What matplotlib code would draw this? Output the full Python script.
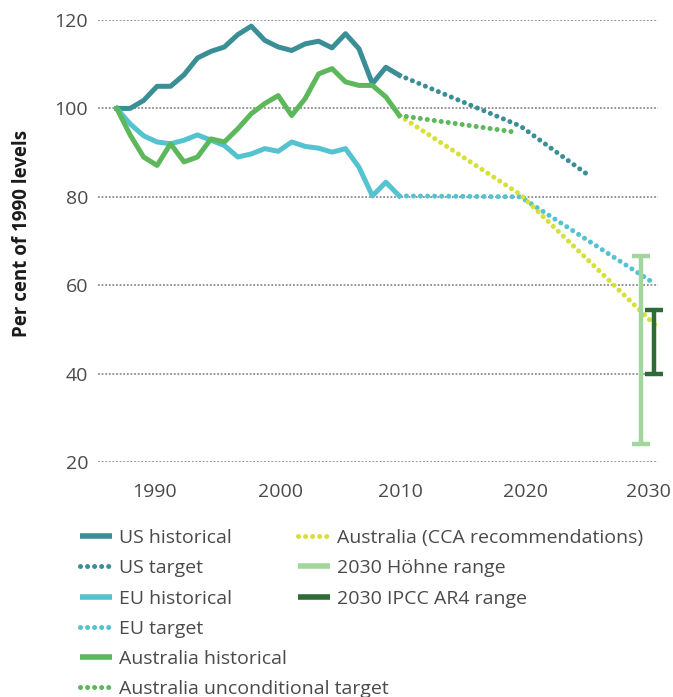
import matplotlib
matplotlib.use("Agg")
import matplotlib.pyplot as plt
from matplotlib.lines import Line2D

# historical emissions, per cent of 1990 levels
hist_years = list(range(1990, 2012))
us_hist = [100, 100, 101.8, 105, 105, 107.6, 111.4, 112.9, 113.9, 116.7, 118.6,
           115.4, 113.9, 113.1, 114.6, 115.2, 113.7, 116.9, 113.5, 105.6, 109.3, 107.5]
eu_hist = [100, 96.5, 93.8, 92.4, 92.0, 92.8, 94.0, 92.8, 91.6, 89.0, 89.7,
           90.9, 90.3, 92.4, 91.4, 91.0, 90.1, 90.9, 86.7, 80.2, 83.3, 80.2]
aus_hist = [100, 94, 89.0, 87.1, 92.0, 87.9, 89.0, 93.1, 92.4, 95.4, 98.8,
            101.1, 102.9, 98.4, 102.2, 107.8, 109.0, 106.0, 105.2, 105.2, 102.6, 98.4]

# targets
us_tgt_years = [2011, 2020, 2025]
us_tgt = [107.5, 96, 85]
eu_tgt_years = [2011, 2020, 2030]
eu_tgt = [80.2, 80, 60.3]
aus_unc_years = [2011, 2019.7]
aus_unc = [98.4, 94.6]
cca_years = [2011, 2020, 2030]
cca = [98.4, 80.5, 51]

# 2030 ranges
hohne_range = [24.1, 66.6]
ipcc_range = [40.0, 54.5]
range_year = 2030

x_ticks_labels = ["1990", "2000", "2010", "2020", "2030"]
y_ticks = [20, 40, 60, 80, 100, 120]

C_US = "#3a8f97"
C_EU = "#55c2cf"
C_AUS = "#5cb85a"
C_CCA = "#d6e036"
C_HOHNE = "#a2d69d"
C_IPCC = "#2f6b35"

FONT = "Open Sans"
TXT = "#4a4a4a"
FS = 14
DOT = (0, (0.01, 1.4))

fig = plt.figure(figsize=(6.73, 6.97), dpi=100)
ax = fig.add_axes([98 / 673, 1 - 462 / 697, 560 / 673, 442 / 697])

lw = 3.6
ax.plot(hist_years, us_hist, color=C_US, lw=lw, solid_joinstyle="round", zorder=3)
ax.plot(hist_years, eu_hist, color=C_EU, lw=lw, solid_joinstyle="round", zorder=3)
ax.plot(hist_years, aus_hist, color=C_AUS, lw=lw, solid_joinstyle="round", zorder=3)

ax.plot(us_tgt_years, us_tgt, color=C_US, lw=lw, ls=DOT, dash_capstyle="round", zorder=3)
ax.plot(eu_tgt_years, eu_tgt, color=C_EU, lw=lw, ls=DOT, dash_capstyle="round", zorder=3)
ax.plot(cca_years, cca, color=C_CCA, lw=lw, ls=DOT, dash_capstyle="round", zorder=3)
ax.plot(aus_unc_years, aus_unc, color=C_AUS, lw=lw, ls=DOT, dash_capstyle="round", zorder=3)

# range bars
for x, rng, col in [(range_year - 1.05, hohne_range, C_HOHNE),
                    (range_year - 0.05, ipcc_range, C_IPCC)]:
    mid = (rng[0] + rng[1]) / 2
    ax.errorbar([x], [mid], yerr=[[mid - rng[0]], [rng[1] - mid]], fmt="none",
                ecolor=col, elinewidth=3.2, capsize=6.5, capthick=3.2,
                zorder=4, clip_on=False)

ax.set_xlim(1988.61, 2030.22)
ax.set_ylim(20, 120)

ax.set_yticks(y_ticks)
ax.set_yticklabels([str(v) for v in y_ticks])
# labels sit where the original places them, not exactly on the decade
ax.set_xticks([1992.8, 2002.2, 2011.1, 2020.4, 2029.5])
ax.set_xticklabels(x_ticks_labels)
ax.tick_params(length=0, labelsize=FS, labelcolor=TXT)
ax.tick_params(axis="y", pad=7)
ax.tick_params(axis="x", pad=15)
for lab in ax.get_xticklabels() + ax.get_yticklabels():
    lab.set_fontfamily(FONT)

ax.grid(axis="y", color="#8c8c8c", lw=1.3, ls=(0, (1, 1)), zorder=1)
ax.grid(axis="x", visible=False)
for s in ax.spines.values():
    s.set_visible(False)

ax.set_ylabel("Per cent of 1990 levels", fontsize=13.5, fontweight="bold",
              color="#1a1a1a", family=FONT)
ax.yaxis.set_label_coords(-0.117, 0.516)

def h(col, dotted=False):
    if dotted:
        return Line2D([], [], color=col, lw=lw, ls=DOT, dash_capstyle="round")
    return Line2D([], [], color=col, lw=4.0, solid_capstyle="butt")

leg_kw = dict(frameon=False, handlelength=1.65, handletextpad=0.35, borderpad=0,
              borderaxespad=0, labelspacing=0.63,
              prop={"family": FONT, "size": FS},
              labelcolor=TXT, loc="upper left")

fig.legend([h(C_US), h(C_US, True), h(C_EU), h(C_EU, True), h(C_AUS), h(C_AUS, True)],
           ["US historical", "US target", "EU historical", "EU target",
            "Australia historical", "Australia unconditional target"],
           bbox_to_anchor=(80 / 673, 1 - 529 / 697), **leg_kw)
fig.legend([h(C_CCA, True), h(C_HOHNE), h(C_IPCC)],
           ["Australia (CCA recommendations)", "2030 Höhne range", "2030 IPCC AR4 range"],
           bbox_to_anchor=(298 / 673, 1 - 529 / 697), **leg_kw)

fig.savefig("out.png", dpi=100)
